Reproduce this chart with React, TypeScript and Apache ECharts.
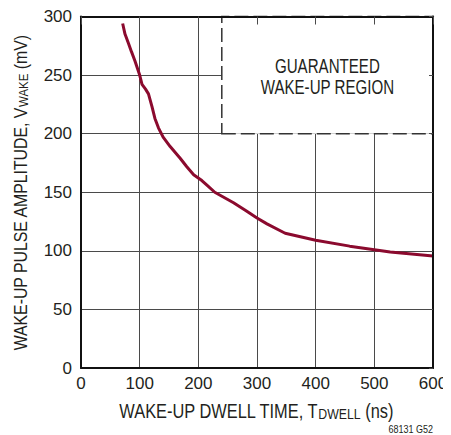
import React, { useEffect, useRef } from "react";
import * as echarts from "echarts";

const dwellTime = [71, 75, 81, 86, 92, 96, 100, 104, 110, 115, 121, 126, 132, 140, 152, 169, 180, 192, 206, 217, 228, 260, 282, 300, 317, 348, 400, 458, 500, 527, 600];
const wakeAmplitude = [294, 285, 277, 270, 262, 256, 250, 242, 238, 234, 223, 213, 205, 197, 189, 179, 172, 165, 160, 155, 150, 141, 134, 128, 123, 115, 109, 104, 101, 99, 95.5];
const regionX = [240, 600];
const regionY = [200, 300];
const regionLines = ["GUARANTEED", "WAKE-UP REGION"];
const xTicks = [0, 100, 200, 300, 400, 500, 600];
const yTicks = [0, 50, 100, 150, 200, 250, 300];
const xTitle = "WAKE-UP DWELL TIME, T{s|DWELL} (ns)";
const yTitle = "WAKE-UP PULSE AMPLITUDE, V{s|WAKE} (mV)";
const figureId = "68131 G52";

const FONT = "'Liberation Sans', Arial, sans-serif";
const TXT = "#231f20";

export default function App() {
  const ref = useRef<HTMLDivElement>(null);
  useEffect(() => {
    const chart = echarts.init(ref.current!, null, { renderer: "svg" });
    const data = dwellTime.map((x, i) => [x, wakeAmplitude[i]]);
    const xMin = xTicks[0], xMax = xTicks[xTicks.length - 1];
    const yMin = yTicks[0], yMax = yTicks[yTicks.length - 1];
    chart.setOption({
      animation: false,
      textStyle: { fontFamily: FONT },
      grid: { left: 73, top: 8, width: 352, height: 352 },
      xAxis: [
        {
          type: "value",
          min: xMin,
          max: xMax,
          interval: 100,
          axisLine: { show: true, lineStyle: { color: "#111", width: 2 } },
          axisTick: { show: false },
          axisLabel: { fontSize: 17, color: TXT, margin: 7, fontFamily: FONT },
          splitLine: { show: true, lineStyle: { color: "#4a4a4a", width: 1 } },
        },
        {
          type: "value",
          position: "top",
          min: xMin,
          max: xMax,
          interval: 100,
          z: 10,
          axisLine: { show: true, onZero: false, lineStyle: { color: "#111", width: 2 } },
          axisTick: { show: true, inside: true, length: 8, lineStyle: { color: "#4a4a4a", width: 1 } },
          axisLabel: { show: false },
          splitLine: { show: false },
        },
      ],
      yAxis: [
        {
          type: "value",
          min: yMin,
          max: yMax,
          interval: 50,
          axisLine: { show: true, lineStyle: { color: "#111", width: 2 } },
          axisTick: { show: false },
          axisLabel: { fontSize: 17, color: TXT, margin: 9, fontFamily: FONT },
          splitLine: { show: true, lineStyle: { color: "#4a4a4a", width: 1 } },
        },
        {
          type: "value",
          position: "right",
          min: yMin,
          max: yMax,
          interval: 50,
          z: 10,
          axisLine: { show: true, onZero: false, lineStyle: { color: "#111", width: 2 } },
          axisTick: { show: true, inside: true, length: 4, lineStyle: { color: "#4a4a4a", width: 1 } },
          axisLabel: { show: false },
          splitLine: { show: false },
        },
      ],
      series: [
        {
          type: "line",
          data,
          showSymbol: false,
          smooth: false,
          lineStyle: { color: "#8b0a2e", width: 3 },
          markArea: {
            silent: true,
            itemStyle: {
              color: "#ffffff",
              opacity: 1,
              borderColor: "#333",
              borderWidth: 1.5,
              borderType: [14, 5],
            },
            label: { show: false },
            data: [[{ coord: [regionX[0], regionY[0]] }, { coord: [regionX[1], regionY[1]] }]],
          },
        },
      ],
    });
    const c = chart.convertToPixel({ gridIndex: 0 }, [
      (regionX[0] + regionX[1]) / 2,
      (regionY[0] + regionY[1]) / 2,
    ]) as number[];
    const regionTexts = regionLines.map((t, i) => ({
      type: "text",
      x: c[0],
      y: c[1] + 2 + (i - (regionLines.length - 1) / 2) * 21,
      scaleX: 0.755,
      z: 20,
      style: {
        text: t,
        fontSize: 20,
        fontFamily: FONT,
        fill: TXT,
        align: "center",
        verticalAlign: "middle",
      },
    }));
    chart.setOption({
      graphic: [
        ...regionTexts,
        {
          type: "text",
          x: 248,
          y: 403,
          scaleX: 0.82,
          style: {
            text: xTitle,
            fontSize: 20,
            fontFamily: FONT,
            fill: TXT,
            align: "center",
            verticalAlign: "middle",
            rich: { s: { fontSize: 15, fontFamily: FONT, fill: TXT, padding: [7, 0, 0, 0] } },
          },
        },
        {
          type: "text",
          x: 13,
          y: 185,
          rotation: Math.PI / 2,
          scaleX: 0.88,
          style: {
            text: yTitle,
            fontSize: 18,
            fontFamily: FONT,
            fill: TXT,
            align: "center",
            verticalAlign: "middle",
            rich: { s: { fontSize: 13, fontFamily: FONT, fill: TXT, padding: [5, 0, 0, 0] } },
          },
        },
        {
          type: "text",
          x: 425,
          y: 421,
          scaleX: 0.9,
          style: {
            text: figureId,
            fontSize: 10,
            fontFamily: FONT,
            fill: TXT,
            align: "right",
            verticalAlign: "middle",
          },
        },
      ],
    });
    return () => chart.dispose();
  }, []);
  return <div ref={ref} style={{ width: 443, height: 427 }} />;
}
